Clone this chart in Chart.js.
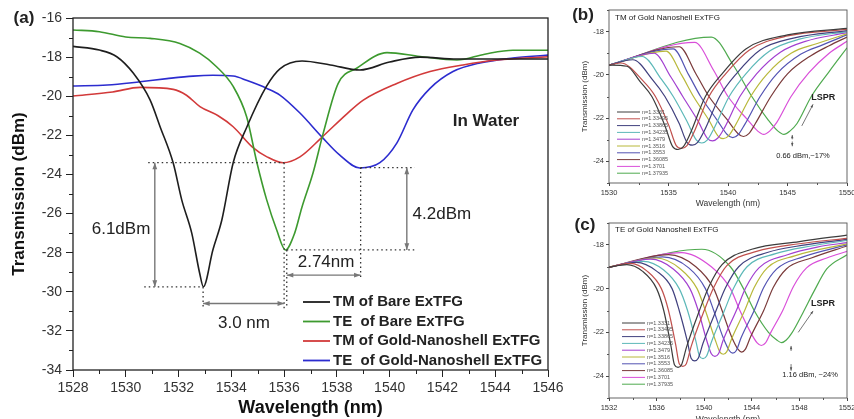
<!DOCTYPE html>
<html>
<head>
<meta charset="utf-8">
<script src="https://cdn.jsdelivr.net/npm/chart.js@4.4.1/dist/chart.umd.min.js"></script>
<style>
  html, body { margin: 0; padding: 0; background: #fff; overflow: hidden; width: 854px; height: 419px; }
  canvas { position: absolute; }
  #chartA { left: 0; top: 0; }
  #chartB { left: 560px; top: 0; }
  #chartC { left: 560px; top: 205px; }
</style>
</head>
<body>
<canvas id="chartA" width="580" height="419"></canvas>
<canvas id="chartB" width="300" height="210"></canvas>
<canvas id="chartC" width="300" height="220"></canvas>
<script>
// ---- panel (a): bare vs gold-nanoshell ExTFG, in water ----
const tmBareWave = [1528, 1529.0, 1529.66, 1530.29, 1530.92, 1531.3, 1531.8, 1532.12, 1532.5, 1532.8, 1532.94, 1533.3, 1533.64, 1534.07, 1534.58, 1535.33, 1535.84, 1536.68, 1537.75, 1538.87, 1540, 1541.15, 1542.55, 1544, 1546];
const tmBareT = [-17.45, -17.64, -17.98, -18.83, -20.19, -21.56, -23.43, -25.3, -27.0, -29.05, -29.74, -27.86, -26.33, -23.4, -21.6, -19.5, -18.6, -18.2, -18.4, -18.66, -18.25, -18.0, -18.1, -18.1, -18.1];

const teBareWave = [1528, 1529.0, 1530.0, 1530.92, 1532.05, 1532.8, 1533.44, 1534.07, 1534.58, 1534.97, 1535.34, 1535.72, 1536.05, 1536.4, 1536.67, 1537.1, 1537.48, 1538.05, 1538.75, 1539.9, 1541.15, 1542.55, 1543.6, 1544.67, 1546];
const teBareT = [-16.61, -16.7, -16.97, -17.04, -17.3, -17.8, -18.49, -19.5, -21.05, -23.4, -25.3, -26.84, -27.86, -27.0, -25.7, -23.9, -21.9, -19.34, -18.57, -17.77, -17.97, -18.15, -17.85, -17.65, -17.65];

const tmGoldWave = [1528, 1529.5, 1530.54, 1531.8, 1532.3, 1532.81, 1533.5, 1534.07, 1534.8, 1535.35, 1535.96, 1536.6, 1537.43, 1538.38, 1539.0, 1540.27, 1541.53, 1542.78, 1544.06, 1546];
const tmGoldT = [-19.99, -19.78, -19.55, -19.65, -19.95, -20.53, -21.0, -21.56, -22.6, -23.1, -23.4, -23.1, -22.1, -20.9, -20.2, -19.35, -18.74, -18.4, -18.15, -17.98];

const teGoldWave = [1528, 1529.3, 1530.54, 1531.56, 1532.55, 1533.3, 1534.07, 1534.6, 1535.35, 1535.84, 1536.6, 1537.43, 1538.1, 1538.87, 1539.63, 1540.27, 1540.88, 1541.53, 1542.4, 1543.42, 1544.67, 1546];
const teGoldT = [-19.48, -19.43, -19.26, -19.1, -18.97, -18.93, -18.97, -19.2, -19.6, -19.94, -20.86, -22.08, -23.0, -23.67, -23.4, -22.4, -20.7, -19.6, -18.74, -18.3, -18.05, -17.9];

const seriesLabelsA = ['TM of Bare ExTFG', 'TE  of Bare ExTFG', 'TM of Gold-Nanoshell ExTFG', 'TE  of Gold-Nanoshell ExTFG'];

// ---- panels (b), (c): refractive index labels ----
const indexLabels = ['n=1.3331', 'n=1.33495', 'n=1.33865', 'n=1.34235', 'n=1.3479', 'n=1.3516', 'n=1.3553', 'n=1.36085', 'n=1.3701', 'n=1.37935'];

// panel (b) TM of gold nanoshell
const bWave1 = [1530, 1531.5, 1532.6, 1533.6, 1534.7, 1535.35, 1535.8, 1536.25, 1536.8, 1538.1, 1539.5, 1541.5, 1545, 1550];
const bT1 = [-19.55, -19.6, -20.3, -21.0, -22.35, -23.32, -23.45, -23.32, -22.75, -21.0, -19.95, -18.8, -18.15, -17.85];
const bWave2 = [1530, 1531, 1532.9, 1533.9, 1535.0, 1535.65, 1536.1, 1536.55, 1537.1, 1538.4, 1539.8, 1541.8, 1545, 1550];
const bT2 = [-19.55, -19.45, -20.3, -21.0, -22.3, -23.27, -23.4, -23.27, -22.7, -21.0, -19.95, -18.85, -18.2, -17.9];
const bWave3 = [1530, 1532, 1533.7, 1534.7, 1535.9, 1536.55, 1537.0, 1537.45, 1538.0, 1539.3, 1540.7, 1542.7, 1545.5, 1550];
const bT3 = [-19.55, -19.3, -20.25, -21.0, -22.25, -23.12, -23.25, -23.12, -22.6, -21.0, -19.95, -18.85, -18.3, -17.95];
const bWave4 = [1530, 1532.8, 1534.4, 1535.4, 1536.6, 1537.35, 1537.8, 1538.25, 1538.8, 1540.1, 1541.5, 1543.5, 1546, 1550];
const bT4 = [-19.55, -19.15, -20.2, -21.0, -22.2, -23.02, -23.15, -23.02, -22.5, -21.0, -19.95, -18.9, -18.35, -18.0];
const bWave5 = [1530, 1533.8, 1535.2, 1536.2, 1537.5, 1538.25, 1538.7, 1539.15, 1539.7, 1541.0, 1542.4, 1544.4, 1546.5, 1550];
const bT5 = [-19.55, -19.0, -20.1, -21.0, -22.15, -22.92, -23.05, -22.92, -22.45, -21.0, -19.95, -18.95, -18.45, -18.05];
const bWave6 = [1530, 1534.8, 1536.1, 1537.1, 1538.4, 1539.15, 1539.6, 1540.05, 1540.6, 1541.9, 1543.3, 1545.3, 1547.5, 1550];
const bT6 = [-19.55, -18.9, -20.0, -21.0, -22.1, -22.82, -22.95, -22.82, -22.35, -21.0, -19.95, -19.0, -18.55, -18.1];
const bWave7 = [1530, 1535.4, 1536.7, 1537.7, 1539.1, 1539.95, 1540.4, 1540.85, 1541.4, 1542.7, 1544.1, 1546.1, 1548, 1550];
const bT7 = [-19.55, -18.8, -20.0, -21.0, -22.1, -22.77, -22.9, -22.77, -22.3, -21.0, -19.95, -19.05, -18.6, -18.15];
const bWave8 = [1530, 1535.9, 1537.3, 1538.4, 1539.9, 1540.85, 1541.3, 1541.75, 1542.3, 1543.6, 1545.0, 1547.0, 1548.5, 1550];
const bT8 = [-19.55, -18.7, -19.95, -21.0, -22.05, -22.72, -22.85, -22.72, -22.25, -21.0, -19.95, -19.1, -18.65, -18.25];
const bWave9 = [1530, 1537.2, 1538.8, 1540.0, 1541.6, 1542.5, 1543.0, 1543.5, 1544.1, 1545.3, 1546.8, 1548.5, 1550];
const bT9 = [-19.55, -18.5, -19.8, -21.0, -22.05, -22.6, -22.75, -22.6, -22.2, -21.0, -19.9, -19.0, -18.45];
const bWave10 = [1530, 1538.6, 1540.5, 1542.0, 1543.4, 1544.2, 1544.7, 1545.2, 1545.8, 1547.0, 1548.5, 1550];
const bT10 = [-19.55, -18.25, -19.6, -21.0, -22.1, -22.6, -22.75, -22.6, -22.25, -21.0, -19.85, -18.75];

// panel (c) TE of gold nanoshell
const cWave1 = [1532, 1533.5, 1534.8, 1536.0, 1536.6, 1537.2, 1537.5, 1537.8, 1538.1, 1538.5, 1539.6, 1540.4, 1541.5, 1544, 1548, 1552];
const cT1 = [-19.02, -18.9, -19.2, -20.0, -21.0, -22.6, -23.48, -23.6, -23.48, -22.7, -21.0, -19.9, -18.9, -18.2, -17.85, -17.55];
const cWave2 = [1532, 1533.8, 1535.2, 1536.4, 1537.0, 1537.6, 1537.9, 1538.2, 1538.5, 1538.9, 1540.0, 1540.8, 1541.9, 1544.4, 1548, 1552];
const cT2 = [-19.02, -18.85, -19.2, -20.0, -21.0, -22.55, -23.43, -23.55, -23.43, -22.65, -21.0, -19.95, -18.95, -18.3, -17.95, -17.7];
const cWave3 = [1532, 1534.3, 1536.0, 1537.3, 1537.9, 1538.6, 1538.9, 1539.2, 1539.5, 1539.9, 1541.0, 1541.8, 1542.9, 1545.3, 1548.5, 1552];
const cT3 = [-19.02, -18.8, -19.2, -20.0, -21.0, -22.45, -23.18, -23.3, -23.18, -22.5, -21.0, -19.95, -19.0, -18.35, -18.0, -17.75];
const cWave4 = [1532, 1534.9, 1536.6, 1537.9, 1538.6, 1539.3, 1539.6, 1539.9, 1540.2, 1540.6, 1541.7, 1542.5, 1543.6, 1546, 1549, 1552];
const cT4 = [-19.02, -18.75, -19.15, -20.0, -21.0, -22.4, -23.08, -23.2, -23.08, -22.45, -21.0, -19.95, -19.0, -18.4, -18.05, -17.8];
const cWave5 = [1532, 1535.5, 1537.4, 1538.8, 1539.5, 1540.2, 1540.6, 1540.9, 1541.2, 1541.6, 1542.7, 1543.5, 1544.6, 1547, 1549.5, 1552];
const cT5 = [-19.02, -18.65, -19.1, -20.0, -21.0, -22.35, -22.98, -23.1, -22.98, -22.35, -21.0, -19.95, -19.05, -18.45, -18.1, -17.9];
const cWave6 = [1532, 1536.0, 1538.0, 1539.4, 1540.1, 1540.9, 1541.3, 1541.6, 1541.9, 1542.3, 1543.4, 1544.2, 1545.3, 1547.6, 1552];
const cT6 = [-19.02, -18.6, -19.1, -20.0, -21.0, -22.3, -22.88, -23.0, -22.88, -22.3, -21.0, -19.95, -19.05, -18.5, -17.95];
const cWave7 = [1532, 1536.5, 1538.7, 1540.1, 1540.8, 1541.6, 1542.1, 1542.4, 1542.7, 1543.1, 1544.2, 1545.0, 1546.1, 1548.3, 1552];
const cT7 = [-19.02, -18.55, -19.05, -20.0, -21.0, -22.25, -22.83, -22.95, -22.83, -22.25, -21.0, -19.95, -19.1, -18.55, -18.0];
const cWave8 = [1532, 1537.0, 1539.3, 1540.8, 1541.5, 1542.3, 1542.85, 1543.15, 1543.45, 1543.9, 1545.0, 1545.8, 1546.9, 1549, 1552];
const cT8 = [-19.02, -18.45, -19.0, -20.0, -21.0, -22.2, -22.78, -22.9, -22.78, -22.2, -21.0, -19.95, -19.1, -18.6, -18.05];
const cWave9 = [1532, 1538.1, 1540.6, 1542.2, 1543.0, 1543.9, 1544.45, 1544.8, 1545.15, 1545.6, 1546.6, 1547.5, 1548.6, 1550.3, 1552];
const cT9 = [-19.02, -18.35, -19.0, -20.0, -21.0, -22.0, -22.48, -22.6, -22.48, -22.0, -21.0, -19.9, -19.05, -18.6, -18.3];
const cWave10 = [1532, 1539.8, 1542.2, 1543.3, 1544.2, 1545.4, 1546.1, 1546.5, 1546.9, 1547.4, 1548.3, 1549.2, 1550.3, 1552];
const cT10 = [-19.02, -18.2, -19.0, -20.0, -21.0, -22.0, -22.35, -22.47, -22.35, -22.0, -21.1, -20.15, -19.1, -18.45];

// annotation values (data units)
const dottedA = [
  [1530.85, -23.4, 1536.0, -23.4],
  [1530.7, -29.75, 1532.93, -29.75],
  [1532.93, -29.75, 1532.93, -30.85],
  [1536.0, -23.4, 1536.0, -30.85],
  [1536.1, -27.86, 1536.1, -30.85],
  [1536.1, -27.86, 1540.95, -27.86],
  [1538.9, -23.65, 1540.95, -23.65],
  [1538.9, -23.65, 1538.9, -29.35]
];
const arrowsA = [
  [1531.1, -23.4, 1531.1, -29.75],
  [1532.93, -30.6, 1536.0, -30.6],
  [1536.1, -29.15, 1538.9, -29.15],
  [1540.65, -23.65, 1540.65, -27.86]
];

const fam = '"Liberation Sans", Arial, sans-serif';
Chart.defaults.font.family = fam;
Chart.defaults.color = '#222';

const colorsA = ['#1e1e1e', '#3d9a2f', '#d23a3a', '#2c2ccf'];
const colorsN = ['#3c3c3c', '#c0504d', '#40407e', '#5cb8b8', '#a23fd0', '#b8b83a', '#5353b3', '#7a3a3a', '#d94fd9', '#4faa4f'];

function pts(w, t) {
  return w.map((x, i) => ({ x: x, y: t[i] }));
}

function line(ctx, x1, y1, x2, y2) {
  ctx.beginPath();
  ctx.moveTo(x1, y1);
  ctx.lineTo(x2, y2);
  ctx.stroke();
}

function head(ctx, x1, y1, x2, y2, size) {
  const a = Math.atan2(y2 - y1, x2 - x1);
  ctx.beginPath();
  ctx.moveTo(x2, y2);
  ctx.lineTo(x2 - size * Math.cos(a - 0.35), y2 - size * Math.sin(a - 0.35));
  ctx.lineTo(x2 - size * Math.cos(a + 0.35), y2 - size * Math.sin(a + 0.35));
  ctx.closePath();
  ctx.fill();
}

// frame + short minor ticks for unlabeled tick positions
function framePlugin(width, color, minorLen) {
  return {
    id: 'frame',
    afterDraw(chart) {
      const { ctx, chartArea: a, scales: { x, y } } = chart;
      ctx.save();
      ctx.strokeStyle = color;
      ctx.lineWidth = width;
      ctx.strokeRect(a.left, a.top, a.right - a.left, a.bottom - a.top);
      ctx.lineWidth = 1;
      x.ticks.forEach(t => {
        if (x.options.ticks.callback(t.value) === '') {
          const p = Math.round(x.getPixelForValue(t.value)) + 0.5;
          line(ctx, p, a.bottom, p, a.bottom + minorLen);
        }
      });
      y.ticks.forEach(t => {
        if (y.options.ticks.callback(t.value) === '') {
          const p = Math.round(y.getPixelForValue(t.value)) + 0.5;
          line(ctx, a.left - minorLen, p, a.left, p);
        }
      });
      ctx.restore();
    }
  };
}

function notesPlugin(spec) {
  return {
    id: 'notes',
    afterDatasetsDraw(chart) {
      const { ctx, scales: { x, y } } = chart;
      const px = v => x.getPixelForValue(v);
      const py = v => y.getPixelForValue(v);
      ctx.save();
      ctx.strokeStyle = '#333';
      ctx.lineWidth = 1.3;
      ctx.setLineDash([1.5, 3]);
      (spec.dotted || []).forEach(d => line(ctx, px(d[0]), py(d[1]), px(d[2]), py(d[3])));
      ctx.setLineDash([]);
      ctx.strokeStyle = spec.arrowColor;
      ctx.fillStyle = spec.arrowColor;
      ctx.lineWidth = spec.arrowWidth;
      (spec.arrows || []).forEach(d => {
        const x1 = px(d[0]), y1 = py(d[1]), x2 = px(d[2]), y2 = py(d[3]);
        line(ctx, x1, y1, x2, y2);
        head(ctx, x1, y1, x2, y2, spec.head);
        if (spec.double) head(ctx, x2, y2, x1, y1, spec.head);
      });
      ctx.textAlign = 'center';
      ctx.textBaseline = 'middle';
      (spec.texts || []).forEach(t => {
        ctx.font = t[3] + ' ' + fam;
        ctx.fillStyle = t[4] || '#222';
        ctx.fillText(t[0], px(t[1]), py(t[2]));
      });
      ctx.restore();
    }
  };
}

function legendPlugin(spec) {
  return {
    id: 'boxLegend',
    afterDatasetsDraw(chart) {
      const ctx = chart.ctx;
      ctx.save();
      ctx.font = spec.font + ' ' + fam;
      ctx.textBaseline = 'middle';
      ctx.textAlign = 'left';
      chart.data.datasets.forEach((ds, i) => {
        const yy = spec.y + i * spec.dy;
        ctx.strokeStyle = ds.borderColor;
        ctx.lineWidth = spec.lw;
        line(ctx, spec.x, yy, spec.x + spec.len, yy);
        ctx.fillStyle = spec.color;
        ctx.fillText(ds.label, spec.textX, yy);
      });
      (spec.extra || []).forEach(t => {
        ctx.font = t[3] + ' ' + fam;
        ctx.textAlign = t[4] || 'left';
        ctx.fillStyle = '#222';
        ctx.fillText(t[0], t[1], t[2]);
      });
      ctx.restore();
    }
  };
}

// ---------- panel (a) ----------
const dataA = [
  [tmBareWave, tmBareT], [teBareWave, teBareT], [tmGoldWave, tmGoldT], [teGoldWave, teGoldT]
];

const yTickA = v => (v % 2 === 0 ? v : '');
const xTickA = v => (v % 2 === 0 ? v : '');

new Chart(document.getElementById('chartA'), {
  type: 'line',
  data: {
    datasets: dataA.map((d, i) => ({
      label: seriesLabelsA[i],
      data: pts(d[0], d[1]),
      borderColor: colorsA[i],
      borderWidth: 1.6,
      pointRadius: 0,
      fill: false,
      cubicInterpolationMode: 'monotone'
    }))
  },
  options: {
    responsive: false,
    animation: false,
    layout: { padding: { left: 0, top: 18, right: 32, bottom: 0 } },
    plugins: { legend: { display: false }, tooltip: { enabled: false } },
    scales: {
      x: {
        type: 'linear', min: 1528, max: 1546,
        afterFit: s => { s.height = 49; },
        ticks: { stepSize: 1, autoSkip: false, maxRotation: 0, callback: xTickA, font: { size: 14 }, color: '#333', padding: 3 },
        grid: { drawOnChartArea: false, tickLength: 7, tickColor: c => (c.tick && c.tick.value % 2 === 0 ? '#222' : 'rgba(0,0,0,0)') },
        border: { display: false },
        title: { display: true, text: 'Wavelength (nm)', font: { size: 18, weight: 'bold' }, color: '#111', padding: { top: 0, bottom: 0 } }
      },
      y: {
        type: 'linear', min: -34, max: -16,
        afterFit: s => { s.width = 73; },
        ticks: { stepSize: 1, autoSkip: false, callback: yTickA, font: { size: 14 }, color: '#333', padding: 4 },
        grid: { drawOnChartArea: false, tickLength: 7, tickColor: c => (c.tick && c.tick.value % 2 === 0 ? '#222' : 'rgba(0,0,0,0)') },
        border: { display: false },
        title: { display: true, text: 'Transmission (dBm)', font: { size: 17, weight: 'bold' }, color: '#111', padding: { top: 9, bottom: 0 } }
      }
    }
  },
  plugins: [
    framePlugin(1.3, '#222', 4),
    notesPlugin({
      dotted: dottedA, arrows: arrowsA, double: true, head: 7, arrowColor: '#777', arrowWidth: 1.4,
      texts: [
        ['6.1dBm', 1529.82, -26.79, '17px'],
        ['3.0 nm', 1534.48, -31.6, '17px'],
        ['4.2dBm', 1541.98, -26.02, '17px'],
        ['2.74nm', 1537.59, -28.47, '17px'],
        ['In Water', 1543.65, -21.3, 'bold 17px', '#222']
      ]
    }),
    legendPlugin({
      x: 303, y: 302, dy: 19.5, len: 27, textX: 333, lw: 1.8, font: 'bold 15px', color: '#222',
      extra: [['(a)', 24, 18, 'bold 17px', 'center']]
    })
  ]
});

// ---------- panels (b), (c) ----------
function smallChart(id, cfg) {
  const xTick = v => (Math.abs((v - cfg.xMin) % cfg.xMajor) < 1e-6 ? v : '');
  const yTick = v => (v % 2 === 0 ? v : '');
  return new Chart(document.getElementById(id), {
    type: 'line',
    data: {
      datasets: cfg.series.map((d, i) => ({
        label: indexLabels[i],
        data: pts(d[0], d[1]),
        borderColor: colorsN[i],
        borderWidth: 1.2,
        pointRadius: 0,
        fill: false,
        cubicInterpolationMode: 'monotone'
      }))
    },
    options: {
      responsive: false,
      animation: false,
      layout: { padding: { left: 0, top: cfg.top, right: 13, bottom: 0 } },
      plugins: { legend: { display: false }, tooltip: { enabled: false } },
      scales: {
        x: {
          type: 'linear', min: cfg.xMin, max: cfg.xMax,
          afterFit: s => { s.height = cfg.xHeight; },
          ticks: { stepSize: cfg.xStep, autoSkip: false, maxRotation: 0, callback: xTick, font: { size: 7.5 }, color: '#333', padding: 2 },
          grid: { drawOnChartArea: false, tickLength: 3, tickColor: c => (c.tick && xTick(c.tick.value) !== '' ? '#444' : 'rgba(0,0,0,0)') },
          border: { display: false },
          title: { display: true, text: 'Wavelength (nm)', font: { size: 8.5 }, color: '#333', padding: { top: 0, bottom: cfg.xTitlePad } }
        },
        y: {
          type: 'linear', min: -25, max: -17,
          afterFit: s => { s.width = 49; },
          ticks: { stepSize: 1, autoSkip: false, callback: yTick, font: { size: 7.5 }, color: '#333', padding: 2 },
          grid: { drawOnChartArea: false, tickLength: 3, tickColor: c => (c.tick && c.tick.value % 2 === 0 ? '#444' : 'rgba(0,0,0,0)') },
          border: { display: false },
          title: { display: true, text: 'Transmission (dBm)', font: { size: 8 }, color: '#333', padding: { top: 20, bottom: 0 } }
        }
      }
    },
    plugins: [
      framePlugin(0.9, '#555', 2),
      notesPlugin({ arrows: cfg.arrows, double: false, head: 3.5, arrowColor: '#555', arrowWidth: 0.8, texts: cfg.texts }),
      legendPlugin({
        x: cfg.legX, y: cfg.legY, dy: 6.8, len: 23, textX: cfg.legX + 25, lw: 1, font: '5.5px', color: '#555',
        extra: cfg.extra
      })
    ]
  });
}

smallChart('chartB', {
  xMin: 1530, xMax: 1550, xStep: 2.5, xMajor: 5, top: 10, xHeight: 27, xTitlePad: 1,
  series: [[bWave1, bT1], [bWave2, bT2], [bWave3, bT3], [bWave4, bT4], [bWave5, bT5], [bWave6, bT6], [bWave7, bT7], [bWave8, bT8], [bWave9, bT9], [bWave10, bT10]],
  legX: 57, legY: 112,
  arrows: [[1546.2, -22.36, 1547.15, -21.36], [1545.4, -22.98, 1545.4, -22.78], [1545.4, -23.08, 1545.4, -23.3]],
  texts: [['LSPR', 1548.0, -21.05, 'bold 9px'], ['0.66 dBm,~17%', 1546.3, -23.77, '7.5px']],
  extra: [['(b)', 23, 15, 'bold 17px', 'center'], ['TM of Gold Nanoshell ExTFG', 55, 18, '8px', 'left']]
});

smallChart('chartC', {
  xMin: 1532, xMax: 1552, xStep: 2, xMajor: 4, top: 18, xHeight: 27, xTitlePad: 0,
  series: [[cWave1, cT1], [cWave2, cT2], [cWave3, cT3], [cWave4, cT4], [cWave5, cT5], [cWave6, cT6], [cWave7, cT7], [cWave8, cT8], [cWave9, cT9], [cWave10, cT10]],
  legX: 62, legY: 118,
  arrows: [[1547.9, -22.0, 1549.15, -21.02], [1547.3, -22.85, 1547.3, -22.62], [1547.3, -23.45, 1547.3, -23.75]],
  texts: [['LSPR', 1549.98, -20.7, 'bold 9px'], ['1.16 dBm, ~24%', 1548.9, -23.95, '7.5px']],
  extra: [['(c)', 25, 20, 'bold 17px', 'center'], ['TE of Gold Nanoshell ExTFG', 55, 25, '8px', 'left']]
});
</script>
</body>
</html>
